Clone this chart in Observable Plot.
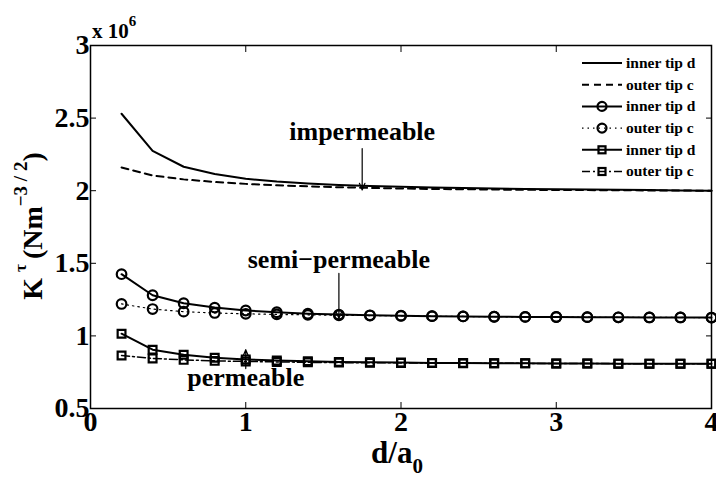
<!DOCTYPE html>
<html><head><meta charset="utf-8">
<script src="https://cdn.jsdelivr.net/npm/d3@7"></script>
<script src="https://cdn.jsdelivr.net/npm/@observablehq/plot@0.6"></script>
<style>
body{margin:0;background:#fff;}
#chart{position:relative;width:716px;height:477px;}
svg text{font-family:"Liberation Serif","DejaVu Serif",serif;font-weight:bold;}
</style></head><body><div id="chart"></div>
<script>
// ---- data ----
const dOverA = [0.2,0.4,0.6,0.8,1.0,1.2,1.4,1.6,1.8,2.0,2.2,2.4,2.6,2.8,3.0,3.2,3.4,3.6,3.8,4.0];
const impInner  = [2.53,2.275,2.165,2.115,2.082,2.063,2.05,2.04,2.033,2.027,2.022,2.018,2.015,2.012,2.01,2.008,2.006,2.004,2.002,2.0];
const impOuter  = [2.16,2.105,2.078,2.06,2.047,2.037,2.03,2.024,2.019,2.015,2.012,2.01,2.008,2.006,2.005,2.004,2.003,2.002,2.001,2.0];
const semiInner = [1.425,1.28,1.225,1.195,1.175,1.163,1.153,1.147,1.142,1.139,1.136,1.134,1.132,1.131,1.13,1.129,1.128,1.127,1.127,1.126];
const semiOuter = [1.22,1.185,1.167,1.158,1.152,1.148,1.145,1.142,1.14,1.138,1.136,1.134,1.132,1.131,1.13,1.129,1.128,1.127,1.127,1.126];
const permInner = [1.015,0.905,0.87,0.85,0.838,0.83,0.825,0.821,0.818,0.816,0.814,0.813,0.812,0.811,0.81,0.81,0.809,0.809,0.808,0.808];
const permOuter = [0.865,0.845,0.835,0.828,0.824,0.821,0.818,0.816,0.815,0.814,0.813,0.812,0.811,0.811,0.81,0.81,0.809,0.809,0.808,0.808];
const xTicks = [0,1,2,3,4];
const yTicks = [0.5,1,1.5,2,2.5,3];
const legendLabels = ["inner tip d","outer tip c","inner tip d","outer tip c","inner tip d","outer tip c"];
const annoLabels = ["impermeable","semi\u2212permeable","permeable"];
const annoX     = [1.75, 1.6, 1.0];
const annoTextY = [2.346, 1.471, 0.658];
const arrowY1   = [2.29, 1.43, 0.775];
const arrowY2   = [2.005, 1.12, 0.905];

// ---- build ----
const FONT = '"Liberation Serif", "DejaVu Serif", serif';
const toRows = (ys) => dOverA.map((x, i) => ({x, y: ys[i]}));
const series = [
  {rows: toRows(impInner),  dash: null,        width: 2,   symbol: null},
  {rows: toRows(impOuter),  dash: "7,5",       width: 2,   symbol: null},
  {rows: toRows(semiInner), dash: null,        width: 2,   symbol: "circle"},
  {rows: toRows(semiOuter), dash: "1.5,4",     width: 1.2, symbol: "circle"},
  {rows: toRows(permInner), dash: null,        width: 2,   symbol: "square"},
  {rows: toRows(permOuter), dash: "8,3,2,3",   width: 1.5, symbol: "square"}
];
const annos = annoLabels.map((t, i) => ({t, x: annoX[i], ty: annoTextY[i], y1: arrowY1[i], y2: arrowY2[i]}));

const marks = [];
for (const s of series) {
  marks.push(Plot.line(s.rows, {x: "x", y: "y", stroke: "black", strokeWidth: s.width, strokeDasharray: s.dash}));
  if (s.symbol) marks.push(Plot.dot(s.rows, {x: "x", y: "y", symbol: s.symbol, r: s.symbol === "circle" ? 4.8 : 4.4, stroke: "black", strokeWidth: 2.2, fill: "none"}));
}
marks.push(Plot.arrow(annos, {x1: "x", x2: "x", y1: "y1", y2: "y2", stroke: "black", strokeWidth: 1.2, headLength: 9, headAngle: 45}));
marks.push(Plot.text(annos, {x: "x", y: "ty", text: "t", lineAnchor: "bottom", textAnchor: "middle", fontSize: 26, fontWeight: "bold", fontFamily: FONT, fill: "black"}));
marks.push(Plot.frame({stroke: "black", strokeWidth: 1.5}));
// tick labels
marks.push(Plot.axisX(xTicks, {anchor: "bottom", tickSize: 0, tickPadding: 3, fontSize: 28, fontFamily: FONT, tickFormat: d => String(d)}));
marks.push(Plot.axisY(yTicks, {anchor: "left", tickSize: 0, tickPadding: 1, fontSize: 28, fontFamily: FONT, tickFormat: d => String(d)}));
// inward ticks on all sides
marks.push(Plot.axisX(xTicks, {anchor: "bottom", tickSize: -6, text: null, label: null}));
marks.push(Plot.axisX(xTicks, {anchor: "top", tickSize: -6, text: null, label: null}));
marks.push(Plot.axisY(yTicks, {anchor: "left", tickSize: -6, text: null, label: null}));
marks.push(Plot.axisY(yTicks, {anchor: "right", tickSize: -6, text: null, label: null}));

const svg = Plot.plot({
  width: 716, height: 477,
  marginLeft: 90, marginRight: 5, marginTop: 45, marginBottom: 69,
  x: {domain: [0, 4], label: null},
  y: {domain: [0.5, 3], label: null},
  style: {fontFamily: FONT, fontWeight: "bold", color: "black", background: "white", overflow: "visible"},
  marks
});
document.getElementById("chart").appendChild(svg);

const g = d3.select(svg).append("g").attr("fill", "black").attr("font-family", FONT).attr("font-weight", "bold");
// x label
const xl = g.append("text").attr("x", 397).attr("y", 463).attr("text-anchor", "middle").attr("font-size", 31);
xl.append("tspan").text("d/a");
xl.append("tspan").attr("dy", 10).attr("font-size", 21).text("0");
// y label
const yl = g.append("text").attr("transform", "translate(42,226) rotate(-90)").attr("text-anchor", "middle").attr("font-size", 28);
yl.append("tspan").text("K");
yl.append("tspan").attr("font-size", 17).attr("dy", -16).attr("dx", 6).text("\u03c4");
yl.append("tspan").attr("dy", 16).attr("dx", 5).text("(Nm");
yl.append("tspan").attr("font-size", 19).attr("dy", -15).text("\u22123 / 2");
yl.append("tspan").attr("dy", 15).text(")");
// exponent
const ex = g.append("text").attr("x", 92).attr("y", 38).attr("text-anchor", "start").attr("font-size", 21);
ex.append("tspan").text("x 10");
ex.append("tspan").attr("font-size", 15).attr("dy", -12).text("6");

// legend
const lg = d3.select(svg).append("g").attr("transform", "translate(582,63)").attr("font-family", FONT).attr("font-weight", "bold");
legendLabels.forEach((lab, i) => {
  const s = series[i];
  const row = lg.append("g").attr("transform", `translate(0,${i * 21.7})`);
  row.append("line").attr("x1", 0).attr("x2", 40).attr("y1", 0).attr("y2", 0)
    .attr("stroke", "black").attr("stroke-width", s.width).attr("stroke-dasharray", s.dash);
  if (s.symbol === "circle") row.append("circle").attr("cx", 20).attr("cy", 0).attr("r", 4.5).attr("fill", "none").attr("stroke", "black").attr("stroke-width", 2.2);
  if (s.symbol === "square") row.append("rect").attr("x", 16.5).attr("y", -3.5).attr("width", 7).attr("height", 7).attr("fill", "none").attr("stroke", "black").attr("stroke-width", 2.2);
  row.append("text").attr("x", 44).attr("y", 0).attr("dy", "0.32em").attr("text-anchor", "start").attr("font-size", 15.5).text(lab);
});
</script></body></html>
